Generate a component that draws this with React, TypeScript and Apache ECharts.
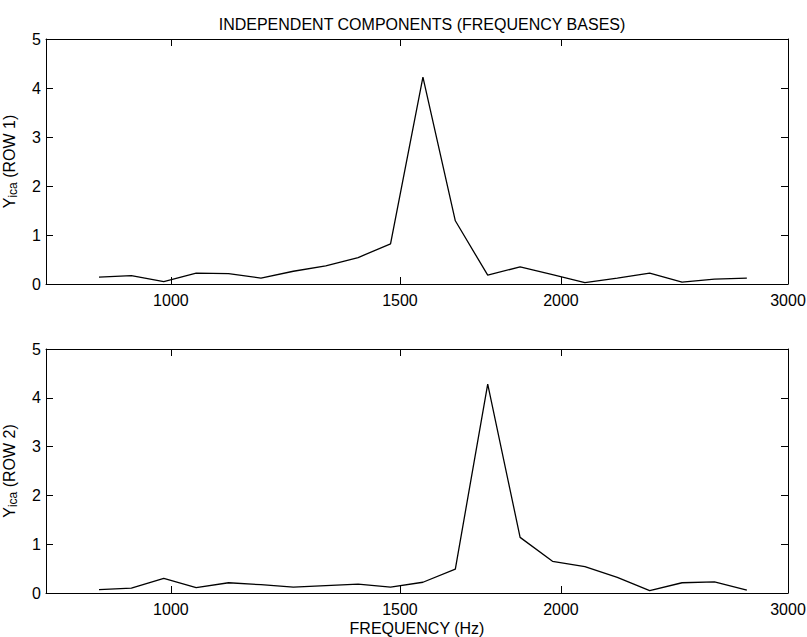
import React, { useEffect, useRef } from "react";
import * as echarts from "echarts";

// channel index 0..20 (equally spaced along the warped frequency axis)
const channels = Array.from({ length: 21 }, (_, i) => i);
const row1 = [0.14, 0.17, 0.05, 0.22, 0.21, 0.12, 0.26, 0.37, 0.54, 0.82, 4.22, 1.29, 0.18, 0.35, 0.19, 0.03, 0.12, 0.22, 0.04, 0.1, 0.12];
const row2 = [0.07, 0.1, 0.3, 0.11, 0.21, 0.17, 0.12, 0.15, 0.18, 0.12, 0.22, 0.49, 4.28, 1.14, 0.65, 0.54, 0.32, 0.05, 0.21, 0.23, 0.06];
// frequency tick labels and their positions in channel-index units
const tickPositions = [2.22, 9.29, 14.26, 21.27];
const tickLabels = ["1000", "1500", "2000", "3000"];
const xMin = -1.636;
const xMax = 21.27;

const FONT = "Liberation Sans, Arial, Helvetica, sans-serif";

export default function App() {
  const ref = useRef<HTMLDivElement>(null);
  useEffect(() => {
    if (!ref.current) return;
    const chart = echarts.init(ref.current, undefined, { renderer: "svg" });
    const labelFor = (v: number) => {
      let best = 0;
      for (let i = 0; i < tickPositions.length; i++) {
        if (Math.abs(tickPositions[i] - v) < Math.abs(tickPositions[best] - v)) best = i;
      }
      return tickLabels[best];
    };
    const axisLine = { show: true, onZero: false, lineStyle: { color: "#000", width: 1 } };
    const tick = { show: true, inside: true, length: 7, lineStyle: { color: "#000", width: 1 } };
    const xBottom = (gridIndex: number, name: string) => ({
      type: "value",
      gridIndex,
      position: "bottom",
      min: xMin,
      max: xMax,
      axisLine,
      axisTick: { ...tick, customValues: tickPositions },
      axisLabel: {
        show: true,
        customValues: tickPositions,
        formatter: (v: number) => labelFor(v),
        color: "#000",
        fontSize: 16,
        fontFamily: FONT,
        margin: 8,
      },
      splitLine: { show: false },
      name,
      nameLocation: "middle",
      nameGap: 27,
      nameTextStyle: { color: "#000", fontSize: 16, fontFamily: FONT, lineHeight: 16 },
    });
    const xTop = (gridIndex: number) => ({
      type: "value",
      gridIndex,
      position: "top",
      min: xMin,
      max: xMax,
      axisLine,
      axisTick: { ...tick, customValues: tickPositions },
      axisLabel: { show: false },
      splitLine: { show: false },
    });
    const yLeft = (gridIndex: number, row: string) => ({
      type: "value",
      gridIndex,
      position: "left",
      min: 0,
      max: 5,
      interval: 1,
      axisLine,
      axisTick: tick,
      axisLabel: { color: "#000", fontSize: 16, fontFamily: FONT, margin: 5 },
      splitLine: { show: false },
      name: `{m|Y}{s|ica}{m| (ROW ${row})}`,
      nameLocation: "middle",
      nameGap: 28,
      nameTextStyle: {
        color: "#000",
        fontFamily: FONT,
        rich: {
          m: { fontSize: 16, fontFamily: FONT, color: "#000", lineHeight: 18 },
          s: { fontSize: 12, fontFamily: FONT, color: "#000", lineHeight: 12, padding: [8, 0, 0, 0] },
        },
      },
    });
    const yRight = (gridIndex: number) => ({
      type: "value",
      gridIndex,
      position: "right",
      min: 0,
      max: 5,
      interval: 1,
      axisLine,
      axisTick: tick,
      axisLabel: { show: false },
      splitLine: { show: false },
    });
    chart.setOption({
      animation: false,
      backgroundColor: "#fff",
      title: {
        text: "INDEPENDENT COMPONENTS (FREQUENCY BASES)",
        left: 417,
        top: 11,
        textAlign: "center",
        textStyle: { color: "#000", fontSize: 16, fontWeight: "normal", fontFamily: FONT },
      },
      grid: [
        { left: 46, right: 19, top: 39, height: 245, outerBoundsMode: "none", containLabel: false },
        { left: 46, right: 19, top: 349, height: 244, outerBoundsMode: "none", containLabel: false },
      ],
      xAxis: [xBottom(0, ""), xTop(0), xBottom(1, "FREQUENCY (Hz)"), xTop(1)],
      yAxis: [yLeft(0, "1"), yRight(0), yLeft(1, "2"), yRight(1)],
      series: [
        {
          type: "line",
          xAxisIndex: 0,
          yAxisIndex: 0,
          data: channels.map((c, i) => [c, row1[i]]),
          showSymbol: false,
          symbol: "none",
          lineStyle: { color: "#000", width: 1.3 },
        },
        {
          type: "line",
          xAxisIndex: 2,
          yAxisIndex: 2,
          data: channels.map((c, i) => [c, row2[i]]),
          showSymbol: false,
          symbol: "none",
          lineStyle: { color: "#000", width: 1.3 },
        },
      ],
    });
    return () => chart.dispose();
  }, []);
  return <div ref={ref} style={{ position: "fixed", left: 0, top: 0, width: 807, height: 637 }} />;
}
